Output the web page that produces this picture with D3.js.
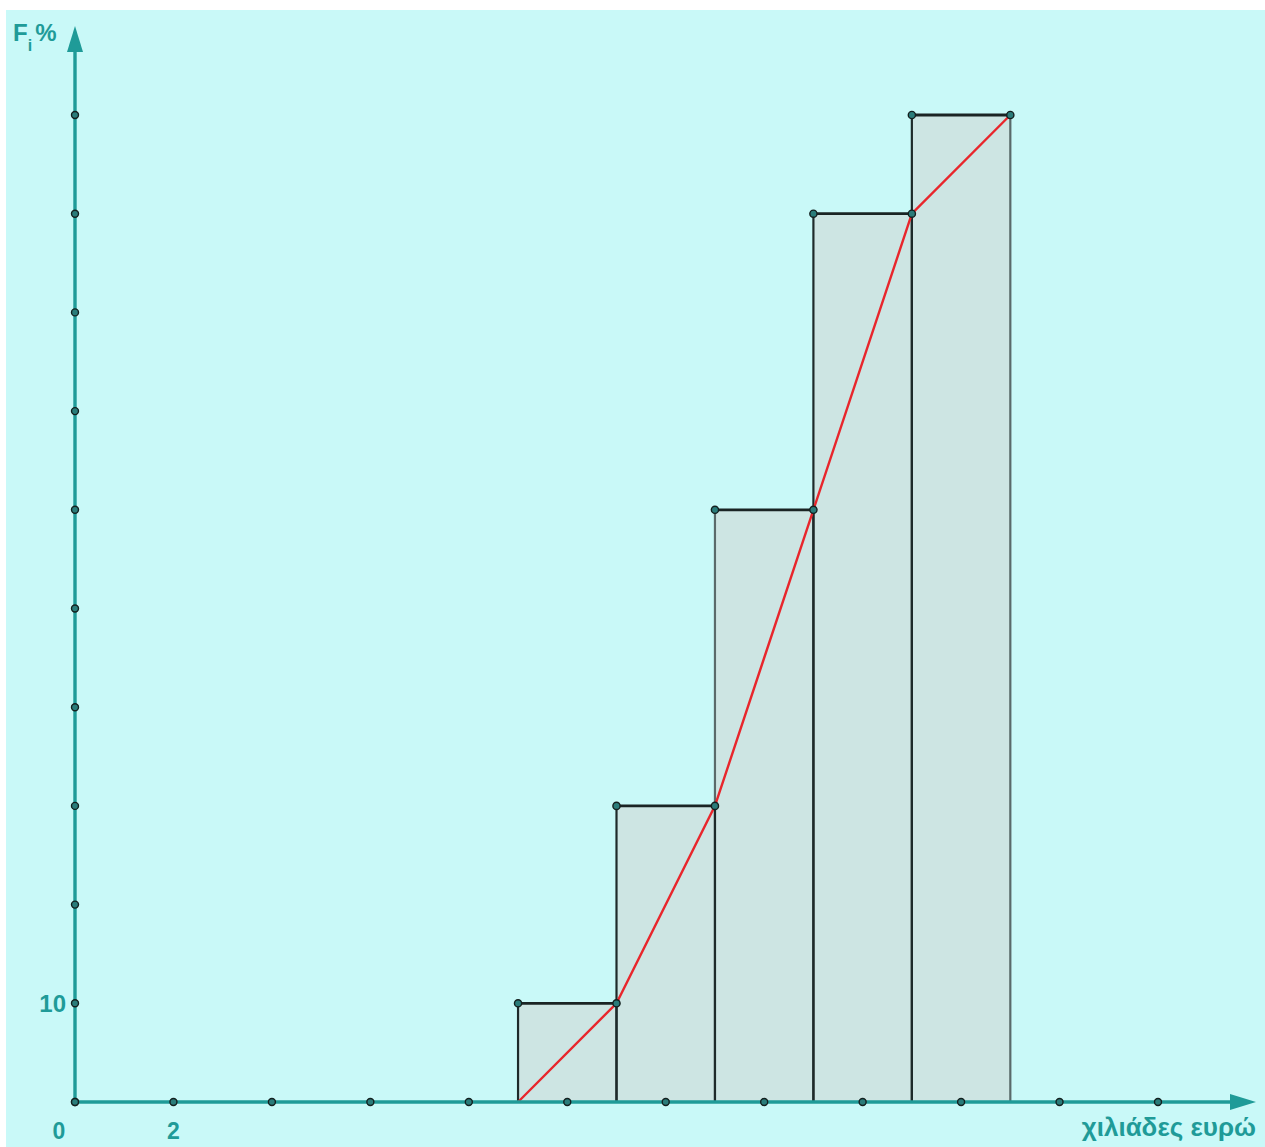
<!DOCTYPE html>
<html><head><meta charset="utf-8">
<script src="https://cdn.jsdelivr.net/npm/d3@7/dist/d3.min.js"></script>
<style>body{margin:0;background:#fff}svg{display:block}</style>
</head><body>
<script>
const classStarts = [9, 11, 13, 15, 17];
const classEnds = [11, 13, 15, 17, 19];
const cumPercent = [10, 30, 60, 90, 100];
const ogiveX = [9, 11, 13, 15, 17, 19];
const ogiveY = [0, 10, 30, 60, 90, 100];
const xTicks = [0, 2, 4, 6, 8, 10, 12, 14, 16, 18, 20, 22];
const xTickLabels = ["2"];
const yTicks = [0, 10, 20, 30, 40, 50, 60, 70, 80, 90, 100];
const yTickLabels = ["10"];

const W = 1265, H = 1147;
const teal = "#1f9b98";
const svg = d3.select("body").append("svg").attr("width", W).attr("height", H);
svg.append("rect").attr("x", 6).attr("y", 10).attr("width", W - 6).attr("height", H - 10).attr("fill", "#c9f9f8");

const x = d3.scaleLinear().domain([0, 22]).range([75, 1158]);
const y = d3.scaleLinear().domain([0, 100]).range([1102, 115]);

// bars
const bars = classStarts.map((s, i) => ({s, e: classEnds[i], v: cumPercent[i]}));
svg.selectAll("rect.bar").data(bars).join("rect").attr("class", "bar")
  .attr("x", d => x(d.s)).attr("y", d => y(d.v))
  .attr("width", d => x(d.e) - x(d.s)).attr("height", d => y(0) - y(d.v))
  .attr("fill", "#cde5e3").attr("stroke", "none");
svg.selectAll("line.side").data(bars).join("line").attr("class", "side")
  .attr("x1", d => x(d.s)).attr("x2", d => x(d.s)).attr("y1", d => y(d.v)).attr("y2", y(0))
  .attr("stroke", (d, i) => i === 2 ? "#5a6a6a" : "#1e2a2a").attr("stroke-width", 2.2);
svg.selectAll("line.rside").data(bars).join("line").attr("class", "rside")
  .attr("x1", d => x(d.e)).attr("x2", d => x(d.e)).attr("y1", d => y(d.v)).attr("y2", y(0))
  .attr("stroke", (d, i) => i === 4 ? "#5a6a6a" : "#1e2a2a").attr("stroke-width", 2.2);
svg.selectAll("line.top").data(bars).join("line").attr("class", "top")
  .attr("x1", d => x(d.s)).attr("x2", d => x(d.e)).attr("y1", d => y(d.v)).attr("y2", d => y(d.v))
  .attr("stroke", "#1a2424").attr("stroke-width", 2.8);

// ogive
const pts = ogiveX.map((v, i) => [x(v), y(ogiveY[i])]);
svg.append("path").attr("d", d3.line()(pts)).attr("fill", "none")
  .attr("stroke", "#e8262c").attr("stroke-width", 2.4);

// corner points of bars
const corners = [];
bars.forEach(d => { corners.push([x(d.s), y(d.v)]); corners.push([x(d.e), y(d.v)]); });
svg.selectAll("circle.corner").data(corners).join("circle").attr("class", "corner")
  .attr("cx", d => d[0]).attr("cy", d => d[1]).attr("r", 3.6)
  .attr("fill", "#2a7c7a").attr("stroke", "#14201f").attr("stroke-width", 1.4);

// axes
svg.append("line").attr("x1", x(0)).attr("x2", 1240).attr("y1", y(0)).attr("y2", y(0))
  .attr("stroke", teal).attr("stroke-width", 3.4);
svg.append("path").attr("d", `M1256,${y(0)} L1230,${y(0) - 8} L1230,${y(0) + 8} Z`).attr("fill", teal);
svg.append("line").attr("x1", x(0)).attr("x2", x(0)).attr("y1", y(0)).attr("y2", 45)
  .attr("stroke", teal).attr("stroke-width", 3.4);
svg.append("path").attr("d", `M${x(0)},26 L${x(0) - 8},52 L${x(0) + 8},52 Z`).attr("fill", teal);

// tick dots
svg.selectAll("circle.xt").data(xTicks).join("circle").attr("class", "xt")
  .attr("cx", d => x(d)).attr("cy", y(0)).attr("r", 3.5)
  .attr("fill", "#2a7c7a").attr("stroke", "#14201f").attr("stroke-width", 1.4);
svg.selectAll("circle.yt").data(yTicks).join("circle").attr("class", "yt")
  .attr("cx", x(0)).attr("cy", d => y(d)).attr("r", 3.5)
  .attr("fill", "#2a7c7a").attr("stroke", "#14201f").attr("stroke-width", 1.4);

// labels
const font = "'Liberation Sans', Arial, sans-serif";
svg.append("text").attr("x", x(0) - 16).attr("y", 1139).attr("text-anchor", "middle")
  .attr("font-family", font).attr("font-weight", "bold").attr("font-size", 23).attr("fill", teal).text("0");
svg.selectAll("text.xl").data(xTickLabels).join("text").attr("class", "xl")
  .attr("x", d => x(+d)).attr("y", 1139).attr("text-anchor", "middle")
  .attr("font-family", font).attr("font-weight", "bold").attr("font-size", 23).attr("fill", teal).text(d => d);
svg.selectAll("text.yl").data(yTickLabels).join("text").attr("class", "yl")
  .attr("x", x(0) - 9).attr("y", d => y(+d) + 9).attr("text-anchor", "end")
  .attr("font-family", font).attr("font-weight", "bold").attr("font-size", 24).attr("fill", teal).text(d => d);
svg.append("text").attr("x", 1256).attr("y", 1136).attr("text-anchor", "end")
  .attr("font-family", font).attr("font-weight", "bold").attr("font-size", 26).attr("fill", teal).text("χιλιάδες ευρώ");
const t = svg.append("text").attr("x", 13).attr("y", 41)
  .attr("font-family", font).attr("font-weight", "bold").attr("font-size", 24).attr("fill", teal);
t.append("tspan").text("F");
t.append("tspan").attr("dy", 10).attr("font-size", 16).text("i");
t.append("tspan").attr("dy", -10).attr("dx", 3).text("%");
</script>
</body></html>
